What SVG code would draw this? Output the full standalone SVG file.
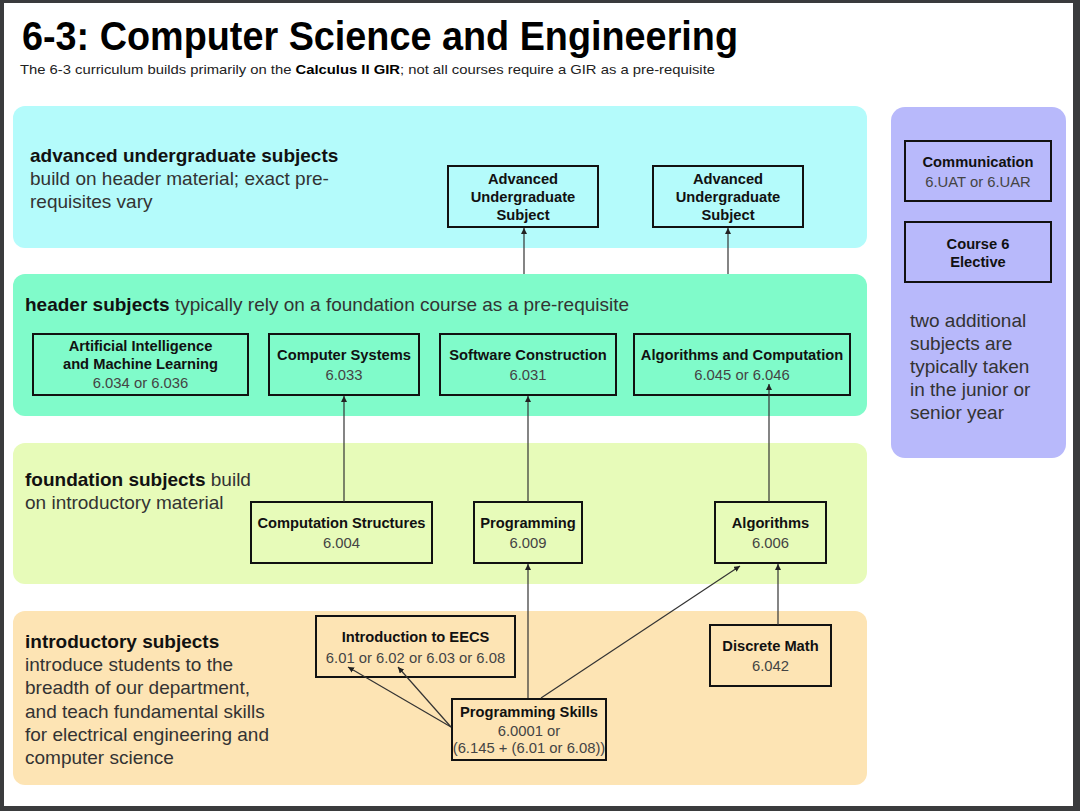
<svg xmlns="http://www.w3.org/2000/svg" width="1080" height="811" viewBox="0 0 1080 811">
<defs>
<marker id="ah" viewBox="0 0 10 10" refX="10" refY="5" markerWidth="6" markerHeight="6" markerUnits="userSpaceOnUse" orient="auto">
<path d="M0,0 L10,5 L0,10 z" fill="#222"/>
</marker>
<style>
.panel{stroke:none}
.box{fill:none;stroke:#111;stroke-width:2}
.t{font-family:"Liberation Sans",Arial,sans-serif}
.bt{font-family:"Liberation Sans",Arial,sans-serif;font-weight:bold;font-size:14.7px;fill:#111;text-anchor:middle}
.st{font-family:"Liberation Sans",Arial,sans-serif;font-size:14.8px;fill:#444;text-anchor:middle}
.pl{font-family:"Liberation Sans",Arial,sans-serif;font-size:19px;fill:#333}
.pb{font-weight:bold;fill:#111}
.conn line{stroke:#333;stroke-width:1.2;marker-end:url(#ah)}
</style>
</defs>
<rect x="0" y="0" width="1080" height="811" fill="#3a3b3d"/>
<rect x="4" y="3" width="1069" height="803" fill="#ffffff"/>

<g id="title">
<text class="t" x="22" y="50" font-size="40" font-weight="bold" fill="#000" textLength="716" lengthAdjust="spacingAndGlyphs">6-3: Computer Science and Engineering</text>
<text class="t" x="20" y="74" font-size="13" fill="#222" textLength="695" lengthAdjust="spacingAndGlyphs">The 6-3 curriculum builds primarily on the <tspan font-weight="bold" fill="#000">Calculus II GIR</tspan>; not all courses require a GIR as a pre-requisite</text>
</g>

<g id="panels">
<rect class="panel" x="13" y="106" width="854" height="142" rx="12" fill="#b4fbfb"/>
<rect class="panel" x="13" y="274" width="854" height="142" rx="12" fill="#80fbca"/>
<rect class="panel" x="13" y="443" width="854" height="141" rx="12" fill="#e7fbb9"/>
<rect class="panel" x="13" y="611" width="854" height="174" rx="12" fill="#fde4b4"/>
<rect class="panel" x="891" y="107" width="175" height="351" rx="14" fill="#b8b9fb"/>
</g>

<g id="panel-labels">
<text class="pl pb" x="30" y="162">advanced undergraduate subjects</text>
<text class="pl" x="30" y="185">build on header material; exact pre-</text>
<text class="pl" x="30" y="208">requisites vary</text>
<text class="pl" x="25" y="311"><tspan class="pb">header subjects</tspan> typically rely on a foundation course as a pre-requisite</text>
<text class="pl" x="25" y="486"><tspan class="pb">foundation subjects</tspan> build</text>
<text class="pl" x="25" y="509">on introductory material</text>
<text class="pl pb" x="25" y="648">introductory subjects</text>
<text class="pl" x="25" y="671">introduce students to the</text>
<text class="pl" x="25" y="694">breadth of our department,</text>
<text class="pl" x="25" y="718">and teach fundamental skills</text>
<text class="pl" x="25" y="741">for electrical engineering and</text>
<text class="pl" x="25" y="764">computer science</text>
<text class="pl" x="910" y="327">two additional</text>
<text class="pl" x="910" y="350">subjects are</text>
<text class="pl" x="910" y="373">typically taken</text>
<text class="pl" x="910" y="396">in the junior or</text>
<text class="pl" x="910" y="419">senior year</text>
</g>

<g id="aus1">
<rect class="box" x="448" y="166" width="150" height="61"/>
<text class="bt" x="523" y="184">Advanced</text>
<text class="bt" x="523" y="202">Undergraduate</text>
<text class="bt" x="523" y="220">Subject</text>
</g>
<g id="aus2">
<rect class="box" x="653" y="166" width="150" height="61"/>
<text class="bt" x="728" y="184">Advanced</text>
<text class="bt" x="728" y="202">Undergraduate</text>
<text class="bt" x="728" y="220">Subject</text>
</g>

<g id="aiml">
<rect class="box" x="33" y="334" width="215" height="61"/>
<text class="bt" x="140.5" y="351">Artificial Intelligence</text>
<text class="bt" x="140.5" y="369">and Machine Learning</text>
<text class="st" x="140.5" y="388">6.034 or 6.036</text>
</g>
<g id="compsys">
<rect class="box" x="269" y="334" width="150" height="61"/>
<text class="bt" x="344" y="360">Computer Systems</text>
<text class="st" x="344" y="380">6.033</text>
</g>
<g id="softcon">
<rect class="box" x="440" y="334" width="176" height="61"/>
<text class="bt" x="528" y="360">Software Construction</text>
<text class="st" x="528" y="380">6.031</text>
</g>
<g id="algcomp">
<rect class="box" x="634" y="334" width="216" height="61"/>
<text class="bt" x="742" y="360">Algorithms and Computation</text>
<text class="st" x="742" y="380">6.045 or 6.046</text>
</g>

<g id="compstruct">
<rect class="box" x="251" y="502" width="181" height="61"/>
<text class="bt" x="341.5" y="528">Computation Structures</text>
<text class="st" x="341.5" y="548">6.004</text>
</g>
<g id="programming">
<rect class="box" x="474" y="502" width="108" height="61"/>
<text class="bt" x="528" y="528">Programming</text>
<text class="st" x="528" y="548">6.009</text>
</g>
<g id="algorithms">
<rect class="box" x="715" y="502" width="111" height="61"/>
<text class="bt" x="770.5" y="528">Algorithms</text>
<text class="st" x="770.5" y="548">6.006</text>
</g>

<g id="introeecs">
<rect class="box" x="316" y="616" width="199" height="61"/>
<text class="bt" x="415.5" y="642">Introduction to EECS</text>
<text class="st" x="415.5" y="663">6.01 or 6.02 or 6.03 or 6.08</text>
</g>
<g id="progskills">
<rect class="box" x="452" y="699" width="154" height="61"/>
<text class="bt" x="529" y="717">Programming Skills</text>
<text class="st" x="529" y="736">6.0001 or</text>
<text class="st" x="529" y="753">(6.145 + (6.01 or 6.08))</text>
</g>
<g id="discrete">
<rect class="box" x="710" y="625" width="121" height="61"/>
<text class="bt" x="770.5" y="651">Discrete Math</text>
<text class="st" x="770.5" y="671">6.042</text>
</g>

<g id="communication">
<rect class="box" x="905" y="141" width="146" height="60"/>
<text class="bt" x="978" y="167">Communication</text>
<text class="st" x="978" y="187">6.UAT or 6.UAR</text>
</g>
<g id="elective">
<rect class="box" x="905" y="222" width="146" height="60"/>
<text class="bt" x="978" y="249">Course 6</text>
<text class="bt" x="978" y="267">Elective</text>
</g>

<g id="connectors" class="conn">
<line x1="524" y1="274" x2="524" y2="228"/>
<line x1="728" y1="274" x2="728" y2="228"/>
<line x1="344" y1="502" x2="344" y2="396"/>
<line x1="528" y1="502" x2="528" y2="396"/>
<line x1="769" y1="502" x2="769" y2="384"/>
<line x1="528" y1="698" x2="528" y2="564"/>
<line x1="541" y1="698" x2="740" y2="566"/>
<line x1="778" y1="625" x2="778" y2="564"/>
<line x1="451" y1="727" x2="348" y2="667"/>
<line x1="451" y1="727" x2="398" y2="667"/>
</g>
</svg>
